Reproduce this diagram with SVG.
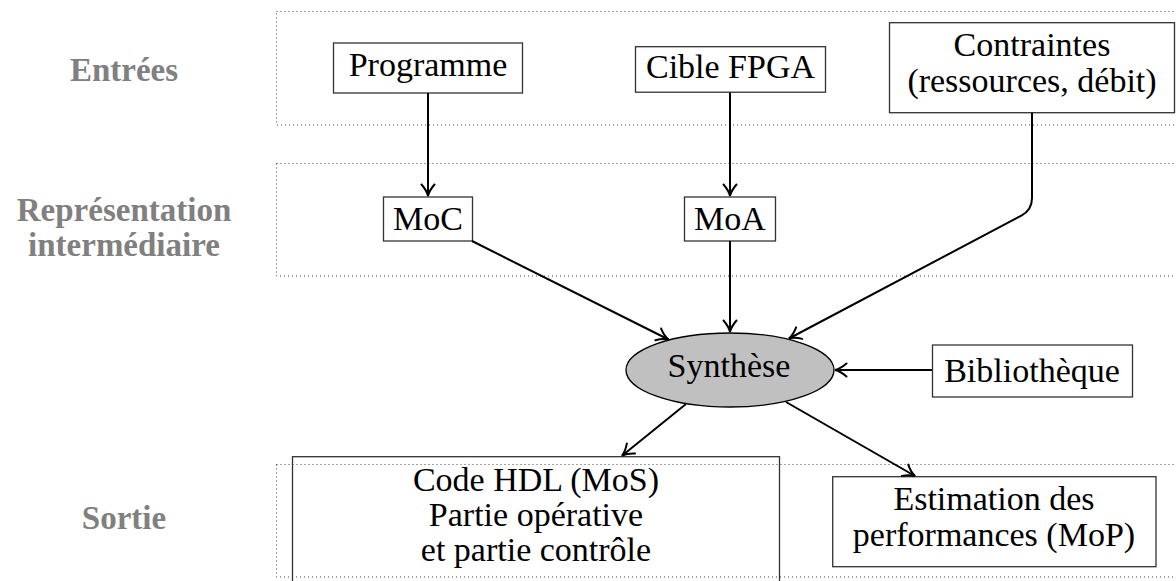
<svg xmlns="http://www.w3.org/2000/svg" width="1176" height="581" viewBox="0 0 1176 581">
<style>
.band{fill:none;stroke:#444;stroke-width:1;stroke-dasharray:1 3}
.box{fill:none;stroke:#333;stroke-width:1.3}
.t{font-family:"Liberation Serif","Times New Roman",serif;font-size:34px;fill:#000;text-anchor:middle}
.lbl{font-family:"Liberation Serif","Times New Roman",serif;font-size:33px;font-weight:bold;fill:#808080;text-anchor:middle}
.c{fill:none;stroke:#000;stroke-width:2;marker-end:url(#arr)}
</style>
<defs>
<marker id="arr" markerUnits="userSpaceOnUse" viewBox="-14 -9 16 18" refX="0" refY="0" markerWidth="16" markerHeight="18" orient="auto">
<path d="M-11.5,-6.5 C-7.5,-3 -3,-0.7 0,0 C-3,0.7 -7.5,3 -11.5,6.5" fill="none" stroke="#000" stroke-width="2" stroke-linecap="round"/>
</marker>
</defs>
<g id="bands">
<rect class="band" x="276.5" y="11.5" width="910" height="113.5"/>
<rect class="band" x="276.5" y="163.5" width="910" height="112.5"/>
<rect class="band" x="276.5" y="464.5" width="910" height="112.5"/>
</g>
<g id="label-entrees"><text class="lbl" x="124" y="81">Entrées</text></g>
<g id="label-representation"><text class="lbl" x="124" y="221">Représentation</text><text class="lbl" x="124" y="256">intermédiaire</text></g>
<g id="label-sortie"><text class="lbl" x="124" y="529">Sortie</text></g>
<g id="programme"><rect class="box" x="333.5" y="43" width="189" height="50"/><text class="t" x="428" y="76">Programme</text></g>
<g id="cible"><rect class="box" x="635.5" y="46.7" width="190" height="45.5"/><text class="t" x="730.5" y="77.7">Cible FPGA</text></g>
<g id="contraintes"><rect class="box" x="889.5" y="22.7" width="285" height="90"/><text class="t" x="1032" y="56">Contraintes</text><text class="t" x="1032" y="92">(ressources, débit)</text></g>
<g id="moc"><rect class="box" x="383.5" y="197" width="89" height="44"/><text class="t" x="428" y="230">MoC</text></g>
<g id="moa"><rect class="box" x="684.5" y="197" width="91" height="44"/><text class="t" x="730" y="230">MoA</text></g>
<g id="synthese"><ellipse cx="730" cy="370" rx="104" ry="37" fill="#c0c0c0" stroke="#000" stroke-width="1.3"/><text class="t" x="729" y="377">Synthèse</text></g>
<g id="bibliotheque"><rect class="box" x="932.5" y="345" width="200" height="52"/><text class="t" x="1032" y="382">Bibliothèque</text></g>
<g id="codehdl"><rect class="box" x="292.5" y="456.7" width="487" height="150"/><text class="t" x="536" y="491">Code HDL (MoS)</text><text class="t" x="536" y="526">Partie opérative</text><text class="t" x="536" y="561">et partie contrôle</text></g>
<g id="estimation"><rect class="box" x="832.7" y="476.7" width="323.3" height="90"/><text class="t" x="994" y="510">Estimation des</text><text class="t" x="994" y="546">performances (MoP)</text></g>
<g id="connectors">
<path class="c" d="M428,93 L428,196"/>
<path class="c" d="M730,92.5 L730,196"/>
<path class="c" d="M472,241 L668.5,339.5"/>
<path class="c" d="M730,241 L730,332"/>
<path class="c" d="M1032,112.7 L1032,198 Q1032,210 1021.4,215.6 L789,338.5"/>
<path class="c" d="M932,370 L835,370"/>
<path class="c" d="M686,404 L622,455.7"/>
<path class="c" d="M786,402 L915,476"/>
</g>
</svg>
